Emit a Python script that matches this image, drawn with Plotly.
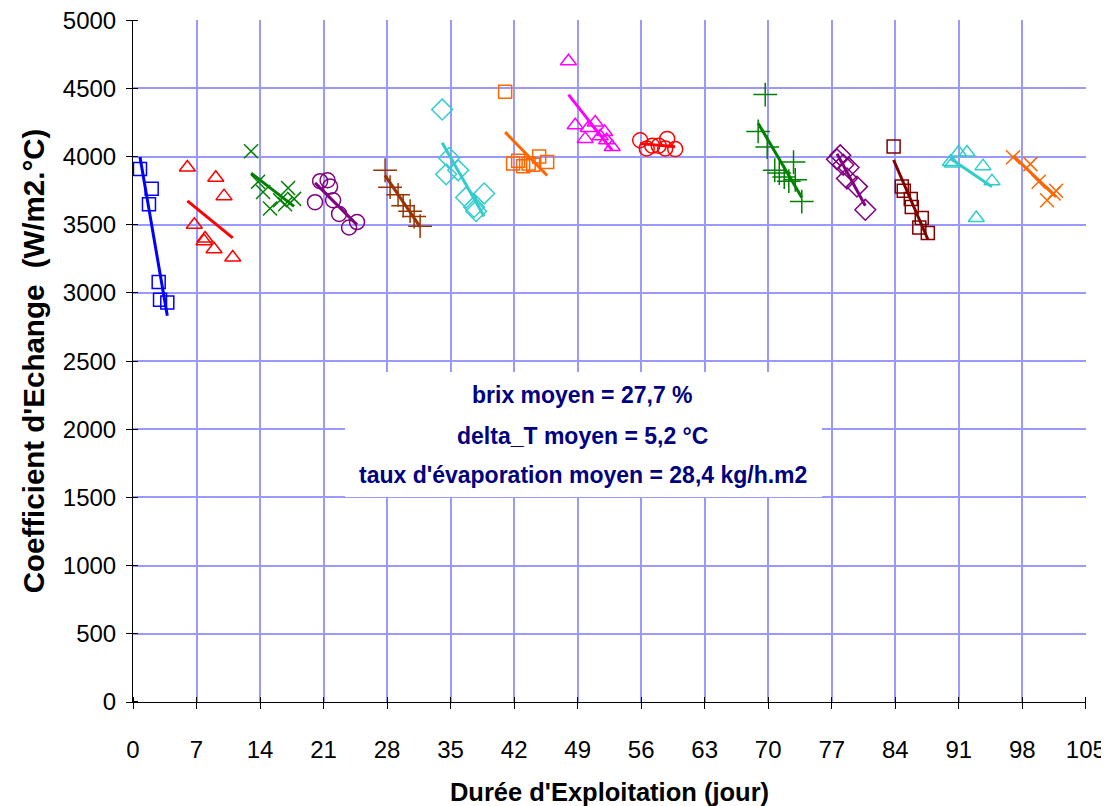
import numpy as np
import plotly.graph_objects as go

# ---- data (day, heat-exchange coefficient) per cleaning cycle ----
x1 = [0.77, 2.06, 1.76, 2.83, 2.98, 3.78]
y1 = [3910, 3765, 3650, 3080, 2950, 2930]

x2 = [5.99, 9.12, 10.03, 6.76, 7.94, 7.83, 8.93, 10.99]
y2 = [3920, 3845, 3710, 3500, 3400, 3380, 3320, 3260]

x3 = [13.01, 13.78, 14.33, 15.10, 16.21, 17.09, 17.75, 16.76]
y3 = [4040, 3815, 3740, 3620, 3680, 3770, 3690, 3650]

x4 = [20.06, 20.62, 21.44, 21.72, 22.05, 22.71, 23.81, 24.69]
y4 = [3666, 3820, 3827, 3780, 3680, 3580, 3480, 3520]

x5 = [27.78, 28.33, 29.21, 29.77, 30.54, 30.98, 31.64]
y5 = [3900, 3776, 3720, 3640, 3600, 3560, 3490]

x6 = [34.07, 34.84, 34.51, 35.83, 36.71, 37.59, 37.81, 38.70]
y6 = [4345, 3990, 3870, 3900, 3700, 3630, 3600, 3730]

x7 = [41.01, 41.89, 42.44, 42.99, 43.60, 44.10, 44.76, 45.64]
y7 = [4475, 3950, 3970, 3930, 3950, 3940, 4000, 3960]

x8 = [47.99, 48.73, 49.83, 50.16, 50.93, 51.48, 51.98, 52.20, 52.81]
y8 = [4700, 4230, 4130, 4210, 4250, 4150, 4180, 4120, 4070]

x9 = [55.89, 56.61, 57.22, 57.93, 58.65, 58.87, 59.75]
y9 = [4120, 4060, 4080, 4080, 4060, 4130, 4055]

x10 = [69.67, 68.89, 69.89, 72.79, 70.72, 71.22, 71.77, 72.27, 72.98, 73.70]
y10 = [4455, 4185, 4070, 3960, 3900, 3880, 3850, 3820, 3830, 3670]

x11 = [77.58, 77.94, 78.27, 78.86, 78.68, 79.78, 80.70]
y11 = [3980, 4010, 3940, 3920, 3840, 3780, 3610]

x12 = [83.82, 84.72, 84.94, 85.71, 85.82, 86.92, 86.65, 87.59]
y12 = [4075, 3780, 3750, 3690, 3630, 3550, 3480, 3440]

x13 = [90.07, 90.29, 90.98, 91.91, 93.67, 94.66, 92.93]
y13 = [3960, 3950, 4030, 4030, 3930, 3820, 3550]

x14 = [96.98, 98.89, 99.80, 100.73, 101.46, 101.72]
y14 = [3995, 3945, 3815, 3680, 3730, 3750]

x_ticks = list(range(0, 106, 7))
y_ticks = list(range(0, 5001, 500))

info_lines = ["brix moyen = 27,7 %",
              "delta_T moyen = 5,2 °C",
              "taux d'évaporation moyen = 28,4 kg/h.m2"]

series = [
    (x1, y1, "#0000FF", "square-open", 13),
    (x2, y2, "#FF0000", "triangle-up-open", 14),
    (x3, y3, "#008000", "x-thin-open", 14),
    (x4, y4, "#800080", "circle-open", 15),
    (x5, y5, "#993300", "cross-thin-open", 17),
    (x6, y6, "#33CCCC", "diamond-open", 16),
    (x7, y7, "#FF6600", "square-open", 13),
    (x8, y8, "#FF00FF", "triangle-up-open", 14),
    (x9, y9, "#FF0000", "circle-open", 15),
    (x10, y10, "#008000", "cross-thin-open", 17),
    (x11, y11, "#800080", "diamond-open", 16),
    (x12, y12, "#800000", "square-open", 13),
    (x13, y13, "#33CCCC", "triangle-up-open", 14),
    (x14, y14, "#FF6600", "x-thin-open", 14),
]

fig = go.Figure()
for xs, ys, col, sym, sz in series:
    fig.add_trace(go.Scatter(
        x=xs, y=ys, mode="markers",
        marker=dict(symbol=sym, size=sz, color=col, line=dict(color=col, width=1.5)),
        showlegend=False, cliponaxis=False))
    # linear trendline through the cycle's points
    a, b = np.polyfit(xs, ys, 1)
    xl = [min(xs), max(xs)]
    fig.add_trace(go.Scatter(
        x=xl, y=[a * v + b for v in xl], mode="lines",
        line=dict(color=col, width=3), showlegend=False))

# white text box
fig.add_shape(type="rect", xref="paper", yref="paper",
              x0=0.2225, x1=0.723, y0=0.3006, y1=0.4839,
              fillcolor="white", line=dict(width=0), layer="above")
for txt, yp in zip(info_lines, [0.450, 0.390, 0.333]):
    fig.add_annotation(text="<b>%s</b>" % txt, xref="paper", yref="paper",
                       x=0.472, y=yp, xanchor="center", yanchor="middle", showarrow=False,
                       font=dict(family="Liberation Sans, Arial", size=23, color="#000080"))

axis_font = dict(family="Liberation Sans, Arial", size=24, color="black")

# inner half of the "cross" tick marks (tiny offset so they are not merged with major ticks)
x_minor = [v + 0.001 for v in x_ticks]
y_minor = [v + 0.05 for v in y_ticks]

# page body has an 8px margin: figure is drawn from (8, 8)
fig.update_layout(
    width=1101, height=798,
    margin=dict(l=125, r=23, t=12, b=104, autoexpand=False),
    paper_bgcolor="white", plot_bgcolor="white",
    xaxis=dict(range=[0, 105.02], tickvals=x_ticks, showgrid=True, gridcolor="#9999FF", gridwidth=2,
               zeroline=False, showline=True, linecolor="black", linewidth=1,
               ticks="outside", ticklen=6, tickcolor="black", tickfont=axis_font,
               minor=dict(tickmode="array", tickvals=x_minor, ticks="inside", ticklen=5,
                          tickcolor="black", showgrid=False),
               ticklabelstandoff=20, automargin=False,
               title=dict(text="<b>Durée d'Exploitation (jour)</b>",
                          font=dict(family="Liberation Sans, Arial", size=25.5, color="black"),
                          standoff=22)),
    yaxis=dict(range=[0, 5002], tickvals=y_ticks, showgrid=True, gridcolor="#9999FF", gridwidth=2,
               zeroline=False, showline=True, linecolor="black", linewidth=1,
               ticks="outside", ticklen=6, tickcolor="black", tickfont=axis_font,
               minor=dict(tickmode="array", tickvals=y_minor, ticks="inside", ticklen=5,
                          tickcolor="black", showgrid=False),
               ticklabelstandoff=5, automargin=False, ticklabeloverflow="allow",
               title=dict(text="<b>Coefficient d'Echange  (W/m2.°C)</b>",
                          font=dict(family="Liberation Sans, Arial", size=29.5, color="black"),
                          standoff=9)),
)

fig.write_html("out.html")
